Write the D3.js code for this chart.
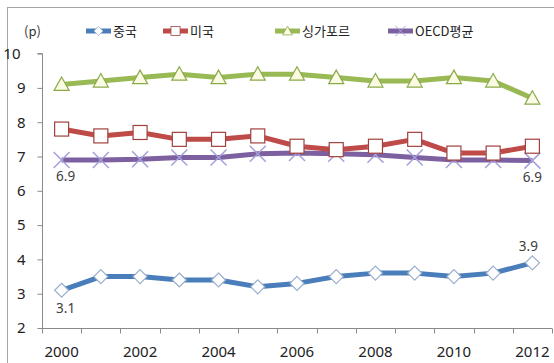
<!DOCTYPE html>
<html><head><meta charset="utf-8">
<script src="https://cdn.jsdelivr.net/npm/d3@7"></script>
<style>body{margin:0;background:#fff}svg{display:block}</style>
</head><body>
<svg id="c" width="554" height="363"></svg>
<script>
const years = ["2000","2001","2002","2003","2004","2005","2006","2007","2008","2009","2010","2011","2012"];
const yearLabels = ["2000","2002","2004","2006","2008","2010","2012"];
const yTicks = [2,3,4,5,6,7,8,9,10];
const seriesNames = ["중국","미국","싱가포르","OECD평균"];
const china = [3.1,3.5,3.5,3.4,3.4,3.2,3.3,3.5,3.6,3.6,3.5,3.6,3.9];
const usa = [7.8,7.6,7.7,7.5,7.5,7.6,7.3,7.2,7.3,7.5,7.1,7.1,7.3];
const singapore = [9.1,9.2,9.3,9.4,9.3,9.4,9.4,9.3,9.2,9.2,9.3,9.2,8.7];
const oecd = [6.9,6.9,6.92,6.97,6.97,7.08,7.1,7.08,7.05,6.97,6.9,6.9,6.88];
const unitLabel = "(p)";

const svg = d3.select("#c");
const x = d3.scaleBand().domain(years).range([42,552]).padding(0);
const y = d3.scaleLinear().domain([2,10]).range([328,53.6]);
const axisColor = "#8a8a8a";
const font = "'Noto Sans CJK KR','Noto Sans',sans-serif";
const numFont = "'Noto Sans',sans-serif";

// frame
svg.append("rect").attr("x",7.5).attr("y",7.5).attr("width",600).attr("height",400)
  .attr("fill","none").attr("stroke","#a6a6a6").attr("stroke-width",1);

// y axis
const ya = svg.append("g").attr("transform","translate(42.5,0)")
  .call(d3.axisLeft(y).tickValues(yTicks).tickSize(5).tickPadding(12).tickFormat(d3.format("d")));
ya.select(".domain").attr("stroke",axisColor).attr("d",`M-5,${y(10)}H0V${y(2)}`);
ya.selectAll(".tick line").attr("stroke",axisColor);
ya.selectAll(".tick text").attr("font-size",15).attr("font-family",numFont).attr("fill","#222");
ya.selectAll(".tick").filter(d=>d===10).select("text").attr("dx",-5);

// x axis
const xa = svg.append("g").attr("transform",`translate(0,${y(2)+0.5})`)
  .call(d3.axisBottom(x).tickValues(yearLabels).tickSize(0).tickPadding(18));
xa.select(".domain").attr("stroke",axisColor).attr("d",`M42,0H552`);
xa.selectAll(".tick text").attr("font-size",15).attr("font-family",numFont).attr("fill","#222");
const bounds = years.map(d=>x(d)).concat([x.range()[1]]);
xa.selectAll(".bt").data(bounds).join("line").attr("class","bt")
  .attr("x1",d=>Math.round(d)+0.5).attr("x2",d=>Math.round(d)+0.5).attr("y1",0).attr("y2",5)
  .attr("stroke",axisColor);

const cx = d => x(d)+x.bandwidth()/2;

const defs = [
  {name:seriesNames[0], data:china, color:"#4a7ebb", marker:"diamond"},
  {name:seriesNames[1], data:usa, color:"#be4b48", marker:"square"},
  {name:seriesNames[2], data:singapore, color:"#98b954", marker:"triangle"},
  {name:seriesNames[3], data:oecd, color:"#7d60a0", marker:"x"}
];

function drawMarker(g, type, px, py){
  if(type==="diamond"){
    g.append("path").attr("d",`M${px},${py-7}L${px+7},${py}L${px},${py+7}L${px-7},${py}Z`)
      .attr("fill","#fff").attr("stroke","#9aaecb").attr("stroke-width",1.2);
  } else if(type==="square"){
    g.append("rect").attr("x",px-7).attr("y",py-7).attr("width",14).attr("height",14)
      .attr("fill","#fff").attr("stroke","#a0413e").attr("stroke-width",1.2);
  } else if(type==="triangle"){
    g.append("path").attr("d",`M${px},${py-7.5}L${px+7.5},${py+6}L${px-7.5},${py+6}Z`)
      .attr("fill","#fbfbe4").attr("stroke","#8aaa4a").attr("stroke-width",1.2);
  } else {
    g.append("path").attr("d",`M${px-8},${py-8}L${px+8},${py+8}M${px+8},${py-8}L${px-8},${py+8}`)
      .attr("stroke","#a59fdc").attr("stroke-width",1.5).attr("fill","none");
  }
}

const line = d3.line().x((d,i)=>cx(years[i])).y(d=>y(d));
const order = [3,0,1,2];
order.forEach(k=>{
  const s = defs[k];
  svg.append("path").datum(s.data).attr("d",line).attr("fill","none")
    .attr("stroke",s.color).attr("stroke-width",5).attr("stroke-linejoin","round");
});
order.forEach(k=>{
  const s = defs[k];
  const g = svg.append("g");
  s.data.forEach((v,i)=>drawMarker(g,s.marker,cx(years[i]),y(v)));
});

// data labels
const lab = svg.append("g").attr("font-size",13.5).attr("font-family",numFont)
  .attr("fill","#404040").attr("text-anchor","middle");
const last = years.length-1;
lab.append("text").attr("x",cx(years[0])+4).attr("y",y(oecd[0])+21).text(d3.format(".1f")(oecd[0]));
lab.append("text").attr("x",cx(years[last])).attr("y",y(oecd[last])+21).text(d3.format(".1f")(oecd[last]));
lab.append("text").attr("x",cx(years[0])+4).attr("y",y(china[0])+23).text(d3.format(".1f")(china[0]));
lab.append("text").attr("x",cx(years[last])-4).attr("y",y(china[last])-12).text(d3.format(".1f")(china[last]));

// legend
svg.append("text").attr("x",24).attr("y",36).attr("font-size",13).attr("font-family",font)
  .attr("fill","#333").text(unitLabel);
const legX = [86,163,275,388];
defs.forEach((s,i)=>{
  const g = svg.append("g");
  const ly = 31;
  g.append("line").attr("x1",legX[i]).attr("x2",legX[i]+25).attr("y1",ly).attr("y2",ly)
    .attr("stroke",s.color).attr("stroke-width",5);
  const gm = g.append("g").attr("transform",`translate(${legX[i]+12.5},${ly}) scale(0.65) translate(${-(legX[i]+12.5)},${-ly})`);
  drawMarker(gm,s.marker,legX[i]+12.5,ly);
  g.append("text").attr("x",legX[i]+27).attr("y",ly+5).attr("font-size",13).attr("font-family",font)
    .attr("fill","#222").text(s.name);
});
</script>
</body></html>
